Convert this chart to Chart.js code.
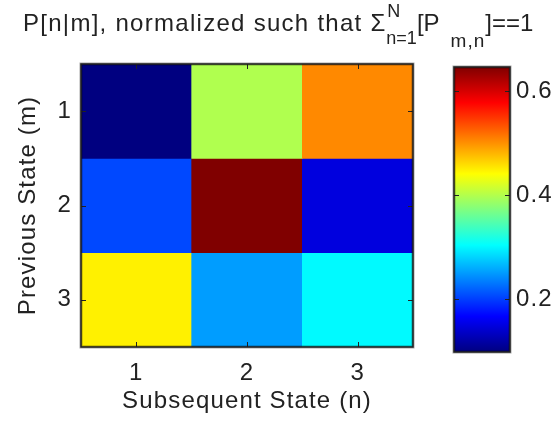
<!DOCTYPE html>
<html>
<head>
<meta charset="utf-8">
<script src="https://cdn.jsdelivr.net/npm/chart.js@4"></script>
<style>
  html, body { margin:0; padding:0; background:#fff; }
  #wrap { position:relative; width:553px; height:423px; overflow:hidden; font-family:"Liberation Sans", Arial, sans-serif; color:#222; }
  #wrap canvas { position:absolute; left:0; top:0; }
  #title { position:absolute; left:23px; top:11px; font-size:24px; line-height:24px; white-space:nowrap; }
  #title .a { letter-spacing:1.28px; }
  #title .ss { position:relative; display:inline-block; font-size:18px; margin-left:1px; }
  #title .ss .sup { position:absolute; left:1px; top:-14px; }
  #title .ss .sub { position:relative; top:13px; }
  #title .lo { position:relative; top:16px; font-size:19px; margin-left:11px; letter-spacing:1px; }
</style>
</head>
<body>
<div id="wrap">
  <canvas id="heat" width="553" height="423"></canvas>
  <canvas id="cbar" width="553" height="423"></canvas>
  <div id="title"><span class="a">P[n|m], normalized such that </span>&Sigma;<span class="ss"><span class="sup">N</span><span class="sub">n=1</span></span>[P<span class="lo">m,n</span>]==1</div>
</div>
<script>
// transition matrix, rows = previous state m, cols = subsequent state n
const nLabels = ['1', '2', '3'];
const mStates = [1, 2, 3];
const row1 = [0.098, 0.398, 0.504];
const row2 = [0.205, 0.646, 0.149];
const row3 = [0.448, 0.251, 0.301];
const rows = [row1, row2, row3];
const cbarTicks = [0.2, 0.4, 0.6];

const allVals = rows.flat();
const cmin = Math.min(...allVals), cmax = Math.max(...allVals);

// jet colormap
const jetStops = [[0,[0,0,0.5]],[1/8,[0,0,1]],[3/8,[0,1,1]],[5/8,[1,1,0]],[7/8,[1,0,0]],[1,[0.5,0,0]]];
function jet(t){
  t = Math.max(0, Math.min(1, t));
  for (let i = 1; i < jetStops.length; i++){
    const [t1, c1] = jetStops[i], [t0, c0] = jetStops[i-1];
    if (t <= t1){
      const f = (t - t0) / (t1 - t0);
      const c = c0.map((v, k) => Math.round(255 * (v + (c1[k] - v) * f)));
      return 'rgb(' + c.join(',') + ')';
    }
  }
}
const colorOf = v => jet((v - cmin) / (cmax - cmin));

const FONT = { family:'"Liberation Sans", Arial, sans-serif', size:24 };
const INK = '#222';

// slightly wider text, like the original render
const spacingPlugin = {
  id:'spacing',
  beforeDraw(chart){ chart.ctx.letterSpacing = '1.15px'; }
};

// box + inward tick marks, matlab style
const boxPlugin = {
  id:'box',
  afterDatasetsDraw(chart, args, opts){
    const {ctx, chartArea:a} = chart;
    ctx.save();
    ctx.strokeStyle = INK;
    ctx.lineWidth = 1;
    ctx.beginPath();
    (opts.xTicks || []).forEach(v => {
      const x = Math.round(chart.scales.x.getPixelForValue(v)) + 0.5;
      ctx.moveTo(x, a.bottom); ctx.lineTo(x, a.bottom - 5);
      ctx.moveTo(x, a.top); ctx.lineTo(x, a.top + 5);
    });
    (opts.yTicks || []).forEach(v => {
      const y = Math.round(chart.scales.y.getPixelForValue(v)) + 0.5;
      ctx.moveTo(a.left, y); ctx.lineTo(a.left + 5, y);
      ctx.moveTo(a.right, y); ctx.lineTo(a.right - 5, y);
    });
    ctx.stroke();
    ctx.strokeStyle = 'rgba(0,0,0,0.35)';
    ctx.lineWidth = 3;
    ctx.strokeRect(a.left, a.top, a.right - a.left, a.bottom - a.top);
    ctx.strokeStyle = INK;
    ctx.lineWidth = 1.5;
    ctx.strokeRect(a.left, a.top, a.right - a.left, a.bottom - a.top);
    ctx.restore();
  }
};

new Chart(document.getElementById('heat'), {
  type:'bar',
  data:{
    labels:nLabels,
    datasets:rows.map((r, i) => ({
      label:'m=' + mStates[i],
      data:r.map(() => [mStates[i] - 0.5, mStates[i] + 0.5]),
      backgroundColor:r.map(colorOf),
      borderWidth:0,
      barPercentage:1,
      categoryPercentage:1
    }))
  },
  options:{
    responsive:false, animation:false,
    layout:{ padding:{ left:0, top:64, right:140, bottom:0 } },
    plugins:{ legend:{display:false}, tooltip:{enabled:false}, box:{ xTicks:[0,1,2], yTicks:mStates } },
    scales:{
      x:{
        stacked:true,
        grid:{display:false, drawTicks:false}, border:{display:false},
        ticks:{ color:INK, font:FONT, padding:12 },
        title:{ display:true, text:'Subsequent State (n)', color:INK, font:FONT, padding:{top:0, bottom:7} },
        afterFit(s){ s.height = 76; }
      },
      y:{
        type:'linear', min:0.5, max:3.5, reverse:true,
        grid:{display:false, drawTicks:false}, border:{display:false},
        afterBuildTicks(s){ s.ticks = mStates.map(v => ({value:v})); },
        ticks:{ color:INK, font:FONT, padding:9 },
        title:{ display:true, text:'Previous State (m)', color:INK, font:FONT, padding:{top:14, bottom:0} },
        afterFit(s){ s.width = 81; }
      }
    }
  },
  plugins:[spacingPlugin, boxPlugin]
});

// colorbar
new Chart(document.getElementById('cbar'), {
  type:'bar',
  data:{
    labels:[''],
    datasets:[{
      data:[[cmin, cmax]],
      borderWidth:0, barPercentage:1, categoryPercentage:1,
      backgroundColor(c){
        const ch = c.chart, y = ch.scales.y;
        if (!y || !ch.chartArea) return '#888';
        const g = ch.ctx.createLinearGradient(0, y.getPixelForValue(cmin), 0, y.getPixelForValue(cmax));
        jetStops.forEach(([t]) => g.addColorStop(t, jet(t)));
        return g;
      }
    }]
  },
  options:{
    responsive:false, animation:false,
    layout:{ padding:{ left:454, top:67, right:0, bottom:71 } },
    plugins:{ legend:{display:false}, tooltip:{enabled:false}, box:{ yTicks:cbarTicks } },
    scales:{
      x:{ display:false },
      y:{
        position:'right', min:cmin, max:cmax,
        grid:{display:false, drawTicks:false}, border:{display:false},
        afterBuildTicks(s){ s.ticks = cbarTicks.map(v => ({value:v})); },
        ticks:{ color:INK, font:FONT, padding:6, callback:v => v.toFixed(1) },
        afterFit(s){ s.width = 43; }
      }
    }
  },
  plugins:[spacingPlugin, boxPlugin]
});
</script>
</body>
</html>
